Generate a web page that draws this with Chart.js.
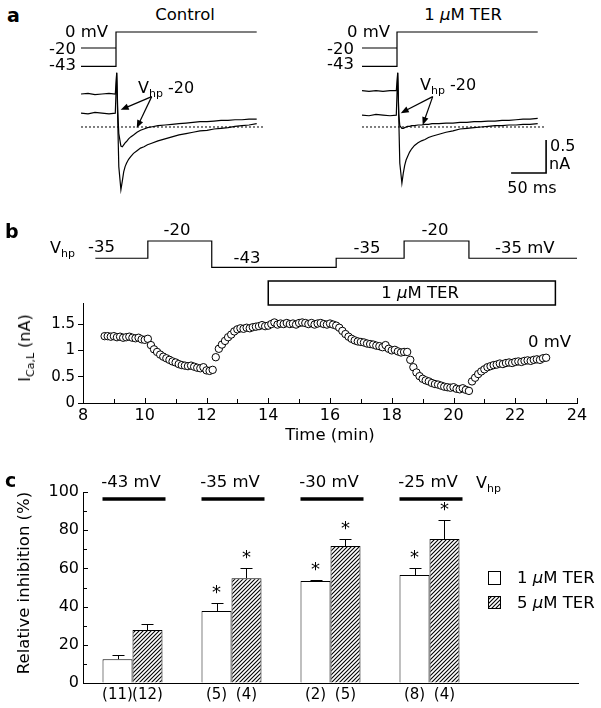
<!DOCTYPE html>
<html><head><meta charset="utf-8">
<script src="https://cdn.jsdelivr.net/npm/chart.js"></script>
<style>
html,body{margin:0;padding:0;background:#fff;}
#fig{position:relative;width:601px;height:708px;overflow:hidden;background:#fff;font-family:'DejaVu Sans',sans-serif;color:#000;}
.lb{position:absolute;white-space:nowrap;line-height:1;font-size:16px;}
.lb sub{font-size:11px;vertical-align:-4px;line-height:0;}
</style></head><body><div id="fig"></div>
<script>
// ===================== DATA =====================
// Panel a: current traces (time in ms from the step to 0 mV, current in nA)
const aTime      = [-50,-40,-30,-20,-10,-1,1,2.5,4,7,9,11,13,15,18,21,25,30,35,40,45,50,60,70,80,90,100,110,120,130,140,150,160,170,180,190,201];
const ctrlHold43 = [0.50,0.51,0.49,0.50,0.51,0.50,0.82,0.10,-0.60,-0.95,-0.82,-0.68,-0.60,-0.55,-0.49,-0.45,-0.40,-0.36,-0.32,-0.30,-0.27,-0.25,-0.21,-0.18,-0.15,-0.12,-0.10,-0.08,-0.06,-0.05,-0.03,-0.02,-0.01,0.01,0.02,0.03,0.05];
const ctrlHold20 = [0.21,0.20,0.22,0.21,0.20,0.21,0.82,0.25,-0.10,-0.29,-0.30,-0.27,-0.24,-0.22,-0.18,-0.15,-0.12,-0.08,-0.05,-0.03,-0.01,0.00,0.02,0.03,0.04,0.05,0.06,0.07,0.08,0.08,0.09,0.10,0.10,0.11,0.11,0.12,0.12];
const terHold43  = [0.55,0.54,0.55,0.54,0.55,0.55,0.82,0.15,-0.55,-0.85,-0.70,-0.58,-0.50,-0.45,-0.38,-0.33,-0.28,-0.24,-0.21,-0.19,-0.16,-0.14,-0.11,-0.08,-0.06,-0.03,-0.02,-0.01,0.00,0.01,0.02,0.02,0.03,0.03,0.04,0.04,0.05];
const terHold20  = [0.18,0.17,0.19,0.18,0.17,0.18,0.82,0.20,0.02,-0.02,-0.02,-0.01,0.00,0.01,0.01,0.02,0.02,0.03,0.03,0.04,0.04,0.05,0.05,0.06,0.06,0.07,0.07,0.08,0.08,0.09,0.09,0.10,0.10,0.11,0.12,0.12,0.13];
const aZeroTime  = [-50,210];
const aZero      = [0,0];
// Panel a: voltage protocol (mV)
const aProtoTime43 = [-50,0,0,201];
const aProtoV43    = [-43,-43,0,0];
const aProtoTime20 = [-50,0];
const aProtoV20    = [-20,-20];

// Panel b: holding potential protocol (min, mV) and TER application
const bVhpTime = [8.4,10.1,12.17,16.2,18.4,20.5,24.0];
const bVhp     = [-35,-20,-43,-35,-20,-35,-35];
const terOn = 14.0, terOff = 23.3;
// Panel b: I_Ca,L time course
const bTime = [8.7,8.8,8.9,9.0,9.1,9.2,9.3,9.4,9.5,9.6,9.7,9.8,9.9,10.0,10.1,10.2,10.3,10.4,10.5,10.6,10.7,10.8,10.9,11.0,11.1,11.2,11.3,11.4,11.5,11.6,11.7,11.8,11.9,12.0,12.1,12.2,12.3,12.4,12.5,12.6,12.7,12.8,12.9,13.0,13.1,13.2,13.3,13.4,13.5,13.6,13.7,13.8,13.9,14.0,14.1,14.2,14.3,14.4,14.5,14.6,14.7,14.8,14.9,15.0,15.1,15.2,15.3,15.4,15.5,15.6,15.7,15.8,15.9,16.0,16.1,16.2,16.3,16.4,16.5,16.6,16.7,16.8,16.9,17.0,17.1,17.2,17.3,17.4,17.5,17.6,17.7,17.8,17.9,18.0,18.1,18.2,18.3,18.4,18.5,18.6,18.7,18.8,18.9,19.0,19.1,19.2,19.3,19.4,19.5,19.6,19.7,19.8,19.9,20.0,20.1,20.2,20.3,20.4,20.5,20.6,20.7,20.8,20.9,21.0,21.1,21.2,21.3,21.4,21.5,21.6,21.7,21.8,21.9,22.0,22.1,22.2,22.3,22.4,22.5,22.6,22.7,22.8,22.9,23.0];
const bICaL = [1.27,1.27,1.26,1.27,1.25,1.26,1.24,1.25,1.26,1.24,1.23,1.24,1.21,1.20,1.22,1.10,1.02,0.97,0.92,0.88,0.85,0.82,0.79,0.77,0.74,0.72,0.71,0.70,0.71,0.69,0.67,0.66,0.68,0.62,0.61,0.63,0.87,1.03,1.11,1.18,1.25,1.30,1.36,1.40,1.42,1.41,1.43,1.42,1.44,1.45,1.46,1.48,1.46,1.47,1.50,1.53,1.49,1.51,1.50,1.52,1.50,1.51,1.49,1.52,1.53,1.52,1.50,1.52,1.49,1.51,1.52,1.50,1.49,1.51,1.49,1.47,1.43,1.37,1.31,1.26,1.22,1.19,1.17,1.16,1.15,1.13,1.12,1.11,1.09,1.08,1.06,1.10,1.03,1.00,1.01,0.98,0.96,0.97,0.97,0.82,0.68,0.58,0.51,0.46,0.43,0.41,0.38,0.36,0.35,0.33,0.31,0.30,0.29,0.30,0.27,0.26,0.28,0.25,0.23,0.41,0.48,0.55,0.60,0.64,0.68,0.70,0.72,0.73,0.75,0.74,0.76,0.77,0.76,0.78,0.79,0.78,0.80,0.81,0.80,0.82,0.83,0.82,0.85,0.86];
const bXTicks = [8,10,12,14,16,18,20,22,24];
const bXMinor = [9,11,13,15,17,19,21,23];
const bYTicks = [0,0.5,1,1.5];

// Panel c: relative inhibition (%)
const cGroups = ['-43 mV','-35 mV','-30 mV','-25 mV',''];
const inhib1  = [12.5,37.7,53.4,56.5,null];
const inhib5  = [27.7,54.9,71.7,75.4,null];
const sem1    = [2.1,4.1,0.5,3.7,null];
const sem5    = [3.2,5.3,3.7,9.9,null];
const sig1    = [false,true,true,true,false];
const sig5    = [false,true,true,true,false];
const n1      = [11,5,2,8,null];
const n5      = [12,4,5,4,null];
const cYTicks = [0,20,40,60,80,100];
const cYMinor = [10,30,50,70,90];

// ===================== HELPERS =====================
Chart.defaults.font.family = "'DejaVu Sans', sans-serif";
Chart.defaults.font.size = 16;
Chart.defaults.color = '#000';
const FONT = "'DejaVu Sans', sans-serif";
const fig = document.getElementById('fig');
const pts = (xs, ys) => xs.map((x, i) => ({x, y: ys[i]}));
function mkCanvas(l, t, w, h) {
  const c = document.createElement('canvas');
  c.width = w; c.height = h;
  c.style.cssText = `position:absolute;left:${l}px;top:${t}px;width:${w}px;height:${h}px;`;
  fig.appendChild(c); return c;
}
function lab(html, x, y, o = {}) {
  const d = document.createElement('div');
  d.className = 'lb'; d.innerHTML = html;
  const al = o.align || 'left';
  const tx = al === 'center' ? '-50%' : al === 'right' ? '-100%' : '0';
  d.style.left = x + 'px'; d.style.top = y + 'px';
  d.style.transform = `translate(${tx},-50%)` + (o.rot ? ' rotate(-90deg)' : '');
  if (o.size) d.style.fontSize = o.size + 'px';
  if (o.bold) d.style.fontWeight = 'bold';
  fig.appendChild(d); return d;
}
function hatchPattern(ctxSrc) {
  const c = document.createElement('canvas'); c.width = 4; c.height = 4;
  const g = c.getContext('2d');
  g.fillStyle = '#fff'; g.fillRect(0, 0, 4, 4);
  g.strokeStyle = '#000'; g.lineWidth = 1.1;
  g.beginPath();
  g.moveTo(0, 4); g.lineTo(4, 0);
  g.moveTo(-1, 1); g.lineTo(1, -1);
  g.moveTo(3, 5); g.lineTo(5, 3);
  g.stroke();
  return ctxSrc.createPattern(c, 'repeat');
}
const base = {responsive: false, animation: false, events: [],
  plugins: {legend: {display: false}, tooltip: {enabled: false}}};

function arrow(c, x0, y0, x1, y1) {
  const ang = Math.atan2(y1 - y0, x1 - x0), L = 8, W = 3.2;
  c.beginPath(); c.moveTo(x0, y0);
  c.lineTo(x1 - L * 0.7 * Math.cos(ang), y1 - L * 0.7 * Math.sin(ang)); c.stroke();
  c.beginPath(); c.moveTo(x1, y1);
  c.lineTo(x1 - L * Math.cos(ang) + W * Math.sin(ang), y1 - L * Math.sin(ang) - W * Math.cos(ang));
  c.lineTo(x1 - L * Math.cos(ang) - W * Math.sin(ang), y1 - L * Math.sin(ang) + W * Math.cos(ang));
  c.closePath(); c.fill();
}

// ===================== PANEL a =====================
const ctrlArrows = {from: [51, 0.46], to: [[6.7, 0.26], [29.6, -0.015]]};
const terArrows  = {from: [51, 0.46], to: [[5.3, 0.21], [36.7, 0.03]]};
const terScaleBar = {t: 213, i: -0.697, dt: 50, di: 0.5};

function traceChart(left, h43, h20, arrows, bar) {
  const cv = mkCanvas(left, 25, 210, 175);
  const line = (d, ax, extra) => Object.assign({data: d, yAxisID: ax, showLine: true, borderColor: '#000',
    backgroundColor: '#000', borderWidth: 1.2, pointRadius: 0, tension: 0}, extra || {});
  return new Chart(cv, {
    type: 'scatter',
    data: {datasets: [
      line(pts(aProtoTime43, aProtoV43), 'yv'),
      line(pts(aProtoTime20, aProtoV20), 'yv'),
      line(pts(aZeroTime, aZero), 'yi', {borderDash: [2, 2], borderWidth: 1}),
      line(pts(aTime, h43), 'yi'),
      line(pts(aTime, h20), 'yi')
    ]},
    options: Object.assign({}, base, {
      layout: {padding: 0},
      scales: {
        x: {type: 'linear', display: false, min: -50, max: 250},
        y: {display: false},
        yv: {axis: 'y', display: false, min: -210, max: 8.75},
        yi: {axis: 'y', display: false, min: -1.106, max: 1.545}
      }
    }),
    plugins: [{id: 'ann', afterDraw(ch) {
      const c = ch.ctx, x = ch.scales.x, y = ch.scales.yi;
      c.save(); c.strokeStyle = '#000'; c.fillStyle = '#000'; c.lineWidth = 1.2;
      const fx = x.getPixelForValue(arrows.from[0]), fy = y.getPixelForValue(arrows.from[1]);
      arrows.to.forEach(t => arrow(c, fx, fy, x.getPixelForValue(t[0]), y.getPixelForValue(t[1])));
      if (bar) {
        c.lineWidth = 1.6; c.beginPath();
        c.moveTo(x.getPixelForValue(bar.t - bar.dt), y.getPixelForValue(bar.i));
        c.lineTo(x.getPixelForValue(bar.t), y.getPixelForValue(bar.i));
        c.lineTo(x.getPixelForValue(bar.t), y.getPixelForValue(bar.i + bar.di));
        c.stroke();
      }
      c.restore();
    }}]
  });
}
traceChart(81, ctrlHold43, ctrlHold20, ctrlArrows, null);
traceChart(362, terHold43, terHold20, terArrows, terScaleBar);

lab('a', 7, 15, {size: 19, bold: true});
lab('Control', 185, 15, {align: 'center', size: 16.5});
lab('1 <i>µ</i>M TER', 463, 15, {align: 'center', size: 16.5});
lab('0 mV', 108, 32, {align: 'right', size: 16.5});
lab('-20', 76, 49, {align: 'right', size: 16.5});
lab('-43', 76, 65, {align: 'right', size: 16.5});
lab('0 mV', 390, 32, {align: 'right', size: 16.5});
lab('-20', 354, 49, {align: 'right', size: 16.5});
lab('-43', 354, 64, {align: 'right', size: 16.5});
lab('V<sub>hp</sub> -20', 138, 88);
lab('V<sub>hp</sub> -20', 420, 85);
lab('0.5', 550, 146);
lab('nA', 549, 164);
lab('50 ms', 532, 188, {align: 'center'});

// ===================== PANEL b =====================
const cvB1 = mkCanvas(0, 225, 601, 85);
new Chart(cvB1, {
  type: 'scatter',
  data: {datasets: [{data: pts(bVhpTime, bVhp), showLine: true, stepped: 'before',
    borderColor: '#000', borderWidth: 1.2, pointRadius: 0}]},
  options: Object.assign({}, base, {
    layout: {padding: {left: 83, right: 24, top: 0, bottom: 0}},
    scales: {x: {type: 'linear', display: false, min: 8, max: 24},
             y: {display: false, min: -80, max: -6.09}}
  }),
  plugins: [{id: 'terbox', afterDraw(ch) {
    const x = ch.scales.x, c = ch.ctx;
    const x0 = x.getPixelForValue(terOn), x1 = x.getPixelForValue(terOff);
    c.save(); c.strokeStyle = '#000'; c.lineWidth = 1.5;
    c.strokeRect(x0, 56, x1 - x0, 24); c.restore();
  }}]
});

const cvB2 = mkCanvas(0, 290, 601, 160);
new Chart(cvB2, {
  type: 'scatter',
  data: {datasets: [{data: pts(bTime, bICaL), pointRadius: 3.7, pointBorderWidth: 1,
    pointBackgroundColor: '#fff', pointBorderColor: '#000', borderColor: '#000', backgroundColor: '#fff'}]},
  options: Object.assign({}, base, {
    layout: {padding: {left: 0, right: 24, top: 13, bottom: 0}},
    scales: {
      x: {type: 'linear', min: 8, max: 24,
        afterBuildTicks: s => { s.ticks = bXTicks.map(v => ({value: v})); },
        afterFit: s => { s.height = 47; },
        ticks: {callback: v => String(v), font: {size: 16}, padding: 3, maxRotation: 0, autoSkip: false},
        grid: {drawOnChartArea: false, drawTicks: false},
        border: {color: '#000', width: 1}},
      y: {min: 0, max: 1.9,
        afterBuildTicks: s => { s.ticks = bYTicks.map(v => ({value: v})); },
        afterFit: s => { s.width = 83; },
        ticks: {callback: v => String(v), font: {size: 15}, padding: 3},
        grid: {drawOnChartArea: false, drawTicks: true, tickLength: 5, color: '#000'},
        border: {color: '#000', width: 1}}
    }
  }),
  plugins: [{id: 'inwardX', afterDraw(ch) {
    const s = ch.scales.x, a = ch.chartArea, c = ch.ctx;
    c.save(); c.strokeStyle = '#000'; c.lineWidth = 1; c.beginPath();
    bXTicks.forEach(v => { const p = Math.round(s.getPixelForValue(v)) + 0.5; c.moveTo(p, a.bottom); c.lineTo(p, a.bottom - 5); });
    bXMinor.forEach(v => { const p = Math.round(s.getPixelForValue(v)) + 0.5; c.moveTo(p, a.bottom); c.lineTo(p, a.bottom - 4); });
    c.stroke(); c.restore();
  }}]
});

lab('b', 5, 231, {size: 19, bold: true});
lab('V<sub>hp</sub>', 50, 248);
lab('-35', 88, 247, {size: 16.5});
lab('-20', 177, 230, {align: 'center', size: 16.5});
lab('-43', 247, 258, {align: 'center', size: 16.5});
lab('-35', 367, 248, {align: 'center', size: 16.5});
lab('-20', 435, 230, {align: 'center', size: 16.5});
lab('-35 mV', 495, 248, {size: 16.5});
lab('1 <i>µ</i>M TER', 420, 293, {align: 'center', size: 16.5});
lab('I<sub>Ca,L</sub> (nA)', 25, 348, {align: 'center', rot: true, size: 16});
lab('0 mV', 528, 342, {size: 16.5});
lab('Time (min)', 330, 435, {align: 'center', size: 16.5});

// ===================== PANEL c =====================
const cvC = mkCanvas(0, 470, 601, 238);
const pat = hatchPattern(cvC.getContext('2d'));
new Chart(cvC, {
  type: 'bar',
  data: {labels: cGroups, datasets: [
    {label: '1 µM TER', data: inhib1, sem: sem1, sig: sig1, n: n1, backgroundColor: '#fff', borderColor: '#000', borderWidth: 1},
    {label: '5 µM TER', data: inhib5, sem: sem5, sig: sig5, n: n5, backgroundColor: pat, borderColor: '#000', borderWidth: 1}
  ]},
  options: Object.assign({}, base, {
    layout: {padding: {left: 0, right: 23, top: 22, bottom: 0}},
    datasets: {bar: {categoryPercentage: 0.606, barPercentage: 1}},
    scales: {
      x: {grid: {display: false}, ticks: {display: false}, border: {color: '#000', width: 1},
        afterFit: s => { s.height = 25; }},
      y: {min: 0, max: 100,
        afterBuildTicks: s => { s.ticks = cYTicks.map(v => ({value: v})); },
        afterFit: s => { s.width = 83; },
        ticks: {callback: v => String(v), font: {size: 16}, padding: 4},
        grid: {drawOnChartArea: false, drawTicks: false},
        border: {color: '#000', width: 1}}
    }
  }),
  plugins: [{id: 'cAnn', afterDatasetsDraw(ch) {
    const c = ch.ctx, y = ch.scales.y, a = ch.chartArea;
    c.save(); c.strokeStyle = '#000'; c.fillStyle = '#000'; c.lineWidth = 1;
    // inward y ticks
    c.beginPath();
    cYTicks.forEach(v => { const p = Math.round(y.getPixelForValue(v)) + 0.5; c.moveTo(a.left, p); c.lineTo(a.left + 5, p); });
    cYMinor.forEach(v => { const p = Math.round(y.getPixelForValue(v)) + 0.5; c.moveTo(a.left, p); c.lineTo(a.left + 4, p); });
    c.stroke();
    ch.data.datasets.forEach((ds, di) => {
      const meta = ch.getDatasetMeta(di);
      meta.data.forEach((bar, i) => {
        if (ds.data[i] == null) return;
        const yt = Math.round(y.getPixelForValue(ds.data[i] + ds.sem[i])) + 0.5;
        const bx = Math.round(bar.x) + 0.5;
        c.beginPath(); c.moveTo(bx, bar.y); c.lineTo(bx, yt);
        c.moveTo(bx - 6, yt); c.lineTo(bx + 6, yt); c.stroke();
        if (ds.sig[i]) {
          c.font = '18px ' + FONT; c.textAlign = 'center'; c.textBaseline = 'alphabetic';
          c.fillText('*', bar.x, yt - 16 + 0.575 * 18);
        }
        c.font = '15px ' + FONT; c.textAlign = 'center'; c.textBaseline = 'middle';
        c.fillText('(' + ds.n[i] + ')', bar.x, 225);
      });
    });
    // holding-potential bars + labels
    const m0 = ch.getDatasetMeta(0), m1 = ch.getDatasetMeta(1);
    cGroups.forEach((g, i) => {
      if (!g) return;
      const b0 = m0.data[i], b1 = m1.data[i];
      const L = b0.x - b0.width / 2, R = b1.x + b1.width / 2 + 3;
      c.lineWidth = 3.5; c.beginPath(); c.moveTo(L, a.top + 7); c.lineTo(R, a.top + 7); c.stroke();
      c.font = '16.5px ' + FONT; c.textAlign = 'center'; c.textBaseline = 'middle';
      c.fillText(g, (L + R) / 2 - 3, a.top - 9);
    });
    c.restore();
  }}]
});

lab('c', 5, 480, {size: 19, bold: true});
lab('V<sub>hp</sub>', 476, 483);
lab('Relative inhibition (%)', 24, 583, {align: 'center', rot: true, size: 16.5});
// legend
(function () {
  const w1 = mkCanvas(488, 571, 13, 14); const g1 = w1.getContext('2d');
  g1.fillStyle = '#fff'; g1.fillRect(0, 0, 13, 14); g1.strokeStyle = '#000'; g1.lineWidth = 1; g1.strokeRect(0.5, 0.5, 12, 13);
  const w2 = mkCanvas(488, 596, 13, 13); const g2 = w2.getContext('2d');
  g2.fillStyle = hatchPattern(g2); g2.fillRect(0, 0, 13, 13); g2.strokeStyle = '#000'; g2.lineWidth = 1; g2.strokeRect(0.5, 0.5, 12, 12);
})();
lab('1 <i>µ</i>M TER', 517, 578, {size: 16.5});
lab('5 <i>µ</i>M TER', 517, 603, {size: 16.5});
</script></body></html>
